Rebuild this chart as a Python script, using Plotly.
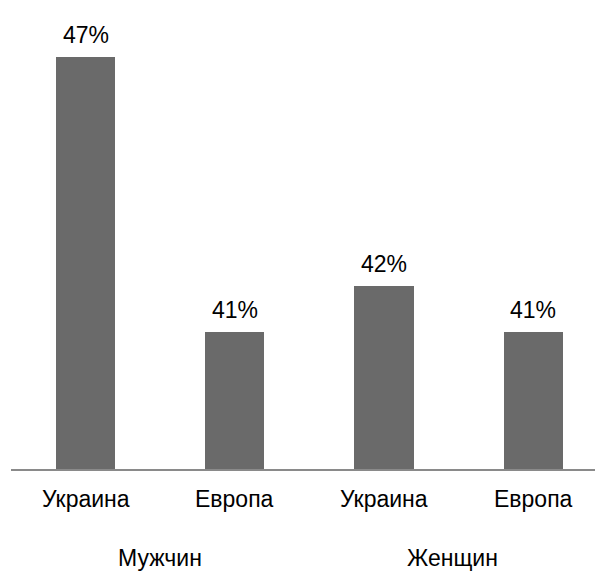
import plotly.graph_objects as go

# Share values by group and region
groups = ["Мужчин", "Женщин"]
regions = ["Украина", "Европа"]
values = [47, 41, 42, 41]
value_labels = ["47%", "41%", "42%", "41%"]

positions = list(range(len(values)))
tick_text = regions * len(groups)
group_xshift = [0, -6]

FONT_SIZE = 23

fig = go.Figure(
    go.Bar(
        x=positions,
        y=values,
        width=0.396,
        marker=dict(color="#6a6a6a", line=dict(width=0)),
        hoverinfo="skip",
    )
)

annotations = []
# Value labels above each bar
for x, v, t in zip(positions, values, value_labels):
    annotations.append(dict(
        x=x, y=v, xref="x", yref="y", text=t, showarrow=False,
        yanchor="middle", yshift=22, font=dict(size=FONT_SIZE, color="#000000"),
    ))
# Region labels under the axis
for x, t in zip(positions, tick_text):
    annotations.append(dict(
        x=x, y=0, xref="x", yref="paper", text=t, showarrow=False,
        yanchor="middle", yshift=-30, font=dict(size=FONT_SIZE, color="#000000"),
    ))
# Group labels below the region labels
for gi, g in enumerate(groups):
    gx = sum(positions[gi * 2: gi * 2 + 2]) / 2
    annotations.append(dict(
        x=gx, y=0, xref="x", yref="paper", text=g, showarrow=False,
        xshift=group_xshift[gi],
        yanchor="middle", yshift=-89, font=dict(size=FONT_SIZE, color="#000000"),
    ))

fig.update_layout(
    width=595, height=571,
    margin=dict(l=11, r=0, t=0, b=102),
    paper_bgcolor="white", plot_bgcolor="white",
    font=dict(family="Liberation Sans, Arial, sans-serif"),
    showlegend=False,
    bargap=0,
    xaxis=dict(
        range=[-0.503, 3.416], showgrid=False, zeroline=False,
        showticklabels=False, ticks="", showline=True,
        linecolor="#8a8a8a", linewidth=2, fixedrange=True,
    ),
    yaxis=dict(
        range=[38, 48.24], visible=False, showgrid=False, zeroline=False,
        fixedrange=True,
    ),
    annotations=annotations,
)

fig.write_html("out.html", config={"displayModeBar": False})
